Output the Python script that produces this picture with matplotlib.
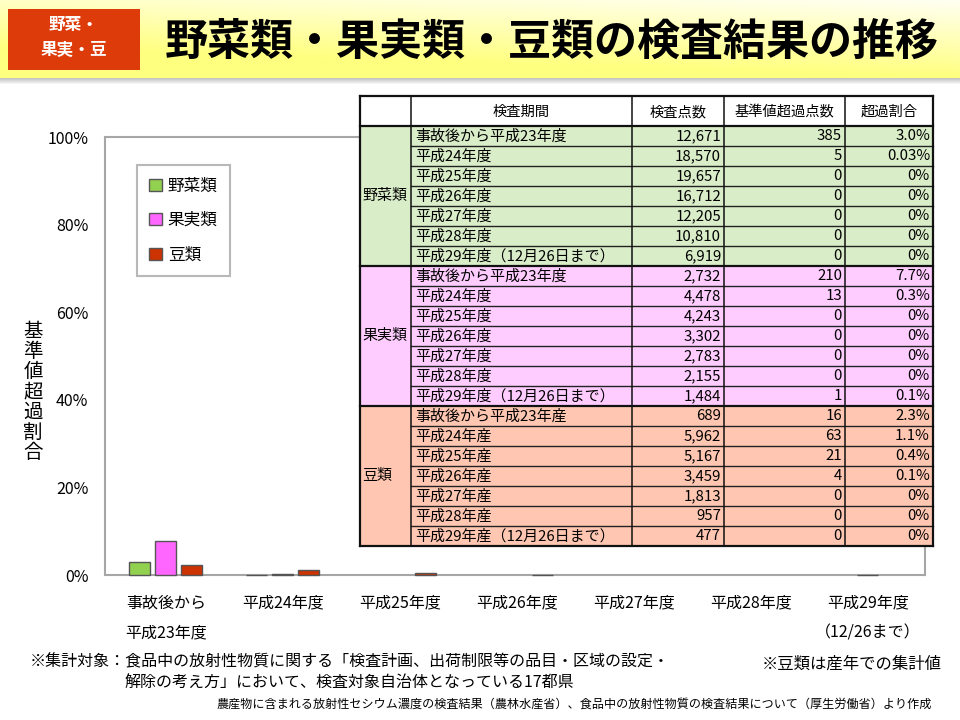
import numpy as np
import matplotlib
matplotlib.use('Agg')
import matplotlib.pyplot as plt
from matplotlib.patches import Rectangle, Patch

plt.rcParams['font.family'] = ['Noto Sans CJK JP', 'DejaVu Sans']

# --- data --------------------------------------------------------------------
CATEGORIES = ['事故後から\n平成23年度', '平成24年度', '平成25年度', '平成26年度',
              '平成27年度', '平成28年度', '平成29年度\n（12/26まで）']
VEG_PCT   = [3.0, 0.03, 0, 0, 0, 0, 0]
FRUIT_PCT = [7.7, 0.3, 0, 0, 0, 0, 0.1]
BEAN_PCT  = [2.3, 1.1, 0.4, 0.1, 0, 0, 0]
SERIES = ['野菜類', '果実類', '豆類']
Y_TICKS = [0, 20, 40, 60, 80, 100]

HEADER = ['', '検査期間', '検査点数', '基準値超過点数', '超過割合']
VEG_PERIODS = ['事故後から平成23年度', '平成24年度', '平成25年度', '平成26年度',
               '平成27年度', '平成28年度', '平成29年度（12月26日まで）']
VEG_COUNT  = ['12,671', '18,570', '19,657', '16,712', '12,205', '10,810', '6,919']
VEG_OVER   = ['385', '5', '0', '0', '0', '0', '0']
VEG_RATIO  = ['3.0%', '0.03%', '0%', '0%', '0%', '0%', '0%']
FRUIT_PERIODS = VEG_PERIODS
FRUIT_COUNT = ['2,732', '4,478', '4,243', '3,302', '2,783', '2,155', '1,484']
FRUIT_OVER  = ['210', '13', '0', '0', '0', '0', '1']
FRUIT_RATIO = ['7.7%', '0.3%', '0%', '0%', '0%', '0%', '0.1%']
BEAN_PERIODS = ['事故後から平成23年産', '平成24年産', '平成25年産', '平成26年産',
                '平成27年産', '平成28年産', '平成29年産（12月26日まで）']
BEAN_COUNT = ['689', '5,962', '5,167', '3,459', '1,813', '957', '477']
BEAN_OVER  = ['16', '63', '21', '4', '0', '0', '0']
BEAN_RATIO = ['2.3%', '1.1%', '0.4%', '0.1%', '0%', '0%', '0%']

COLORS = {'veg': '#92D050', 'fruit': '#FF66FF', 'bean': '#CC3300'}
TABLE_BG = {'veg': '#D9EDC9', 'fruit': '#FFCCFF', 'bean': '#FFC7B2'}

fig = plt.figure(figsize=(9.6, 7.2), dpi=100)

# --- chart -------------------------------------------------------------------
ax = fig.add_axes([105/960, 145/720, 820/960, 438/720])
x = np.arange(len(CATEGORIES))
w, off = 0.18, 0.222
for vals, key, lab, dx in [(VEG_PCT, 'veg', SERIES[0], -off),
                           (FRUIT_PCT, 'fruit', SERIES[1], 0),
                           (BEAN_PCT, 'bean', SERIES[2], off)]:
    # skip exact zeros, small values still show as thin outlined bars
    xs = [xi + dx for xi, v in zip(x, vals) if v > 0]
    vs = [v for v in vals if v > 0]
    ax.bar(xs, vs, w, color=COLORS[key], edgecolor='#555555',
           linewidth=1.0, label=lab, zorder=3, clip_on=False)
ax.set_xlim(-0.52, 6.49)
ax.set_ylim(0, 100)
ax.set_yticks(Y_TICKS)
ax.set_yticklabels([f'{v}%' for v in Y_TICKS], fontsize=11.5)
ax.set_xticks(x)
ax.set_xticklabels(CATEGORIES, fontsize=11.5, linespacing=2.0, va='top')
ax.tick_params(axis='both', length=0)
ax.tick_params(axis='x', pad=14)
ax.tick_params(axis='y', pad=12)
for s in ax.spines.values():
    s.set_color('#A6A6A6')
    s.set_linewidth(1.5)

handles = [Patch(facecolor=COLORS[k], edgecolor='#555555') for k in ['veg', 'fruit', 'bean']]
leg = ax.legend(handles, SERIES, loc='upper left', bbox_to_anchor=(0.039, 0.936),
                fontsize=12, frameon=True, fancybox=False, labelspacing=1.05,
                handlelength=0.75, handleheight=0.75, handletextpad=0.35,
                borderpad=0.75, borderaxespad=0)
leg.get_frame().set_edgecolor('#A6A6A6')
leg.get_frame().set_linewidth(1.5)

# y label as stacked vertical characters
fig.text(33/960, 1 - 392/720, '\n'.join('基準値超過割合'), fontsize=14,
         ha='center', va='center', linespacing=0.95)

# --- overlay: banner, table, notes (pixel coordinates) ------------------------
ov = fig.add_axes([0, 0, 1, 1], zorder=5)
ov.set_xlim(0, 960)
ov.set_ylim(720, 0)
ov.axis('off')
ov.patch.set_alpha(0)

# banner gradient
gy = np.linspace(0, 1, 80)[:, None]
gx = np.linspace(0, 1, 960)[None, :]
light = np.clip(0.75 - 0.9 * gy + 0.35 * gx - 0.2, 0, 1)
grad = np.zeros((80, 960, 3))
grad[..., 0] = 1.0
grad[..., 1] = 1.0
grad[..., 2] = 0.50 + 0.50 * light
ov.imshow(grad, extent=(0, 960, 78, 0), aspect='auto', zorder=0)
for i in range(6):
    ov.add_patch(Rectangle((0, 78 + i), 960, 1, color='#888888',
                           alpha=0.5 * (1 - i / 6), lw=0, zorder=1))

ov.add_patch(Rectangle((8, 9), 132, 61, color='#DD3C0A', lw=0, zorder=2))
ov.text(74, 25, '野菜・', color='white', fontsize=12, weight='bold',
        ha='center', va='center', zorder=3)
ov.text(74, 50, '果実・豆', color='white', fontsize=12, weight='bold',
        ha='center', va='center', zorder=3)
ov.text(552, 42, '野菜類・果実類・豆類の検査結果の推移', fontsize=31,
        weight='bold', ha='center', va='center', zorder=3)

# table
col_x = [360, 411, 632, 724, 845, 933]
top, head_h, row_h = 96, 30, 20
fs = 10.8
ov.add_patch(Rectangle((col_x[0], top), col_x[-1] - col_x[0], head_h,
                       facecolor='white', lw=0, zorder=2))
for j in range(1, 5):
    ov.text((col_x[j] + col_x[j + 1]) / 2, top + head_h / 2 + 1, HEADER[j],
            fontsize=fs - 0.5, ha='center', va='center', zorder=4)

groups = [('veg', SERIES[0], VEG_PERIODS, VEG_COUNT, VEG_OVER, VEG_RATIO),
          ('fruit', SERIES[1], FRUIT_PERIODS, FRUIT_COUNT, FRUIT_OVER, FRUIT_RATIO),
          ('bean', SERIES[2], BEAN_PERIODS, BEAN_COUNT, BEAN_OVER, BEAN_RATIO)]
y0 = top + head_h
for gi, (key, name, periods, cnt, over, ratio) in enumerate(groups):
    gtop = y0 + gi * 7 * row_h
    ov.add_patch(Rectangle((col_x[0], gtop), col_x[-1] - col_x[0], 7 * row_h,
                           facecolor=TABLE_BG[key], lw=0, zorder=2))
    ov.text(col_x[0] + 2, gtop + 3.5 * row_h, name, fontsize=fs,
            ha='left', va='center', zorder=4)
    for r in range(7):
        yc = gtop + r * row_h + row_h / 2 + 0.5
        ov.text(col_x[1] + 4, yc, periods[r], fontsize=fs, ha='left', va='center', zorder=4)
        ov.text(col_x[3] - 3, yc, cnt[r], fontsize=fs, ha='right', va='center', zorder=4)
        ov.text(col_x[4] - 3, yc, over[r], fontsize=fs, ha='right', va='center', zorder=4)
        ov.text(col_x[5] - 3, yc, ratio[r], fontsize=fs, ha='right', va='center', zorder=4)
        if r > 0:
            ov.plot([col_x[1], col_x[-1]], [gtop + r * row_h] * 2,
                    color='#222222', lw=1.0, zorder=3)
    ov.plot([col_x[0], col_x[-1]], [gtop, gtop], color='#111111', lw=1.6, zorder=3)

bottom = y0 + 21 * row_h
ov.plot([col_x[0], col_x[-1]], [bottom, bottom], color='#111111', lw=1.6, zorder=3)
ov.plot([col_x[0], col_x[-1]], [top, top], color='#111111', lw=1.6, zorder=3)
for j, cx in enumerate(col_x):
    ov.plot([cx, cx], [top, bottom], color='#111111',
            lw=1.6 if j in (0, 5) else 1.1, zorder=3)

# notes
ov.text(30, 662, '※集計対象：食品中の放射性物質に関する「検査計画、出荷制限等の品目・区域の設定・',
        fontsize=11.5, ha='left', va='center')
ov.text(124, 682, '解除の考え方」において、検査対象自治体となっている17都県',
        fontsize=11.5, ha='left', va='center')
ov.text(942, 664, '※豆類は産年での集計値', fontsize=11.8, ha='right', va='center')
ov.text(932, 704, '農産物に含まれる放射性セシウム濃度の検査結果（農林水産省）、食品中の放射性物質の検査結果について（厚生労働省）より作成',
        fontsize=8.7, ha='right', va='center')

fig.savefig('out.png', dpi=100)
